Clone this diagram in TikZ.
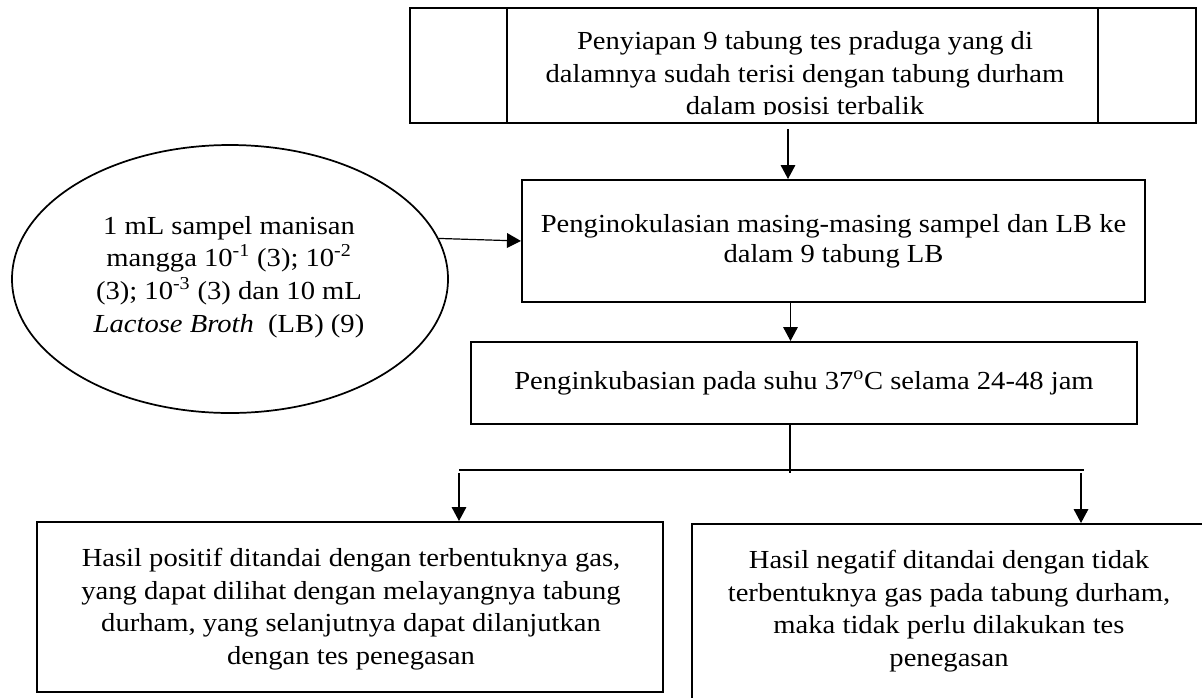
\documentclass[tikz,border=0pt]{standalone}
\usepackage{fontspec}
\setmainfont{Liberation Serif}[FakeStretch=1.1]
\usetikzlibrary{arrows.meta,shapes.geometric,calc}
\begin{document}
\begin{tikzpicture}[x=0.75pt,y=-0.75pt,
  font=\fontsize{19.5pt}{24.4pt}\selectfont,
  box/.style={draw, line width=1.5pt, rectangle, inner sep=0pt, align=center},
  txt/.style={align=center, inner sep=0pt},
  arr/.style={line width=0.9pt, -{Triangle[length=10.5pt,width=11pt]}},
  ln/.style={line width=0.9pt}]
\useasboundingbox (0,0) rectangle (1202,697);
\clip (0,0) rectangle (1202,697);

% top box
\node[box, minimum width=589.5pt, minimum height=86.25pt] (top) at (803,65.5) {};
\draw[line width=1.5pt] ($(top.north west)+(98,0)$) -- ($(top.south west)+(98,0)$);
\draw[line width=1.5pt] ($(top.north east)+(-99,0)$) -- ($(top.south east)+(-99,0)$);
\begin{scope}
  \clip (top.north west) rectangle ($(top.south east)+(0,-10)$);
  \node[txt] (ttop) at (805,76) {Penyiapan 9 tabung tes praduga yang di\\
    dalamnya sudah terisi dengan tabung durham\\
    dalam posisi terbalik};
\end{scope}

% box 2
\node[box, minimum width=467.25pt, minimum height=91.5pt,
  font=\fontsize{19.5pt}{22.5pt}\selectfont] (b2) at (833.5,241)
  {Penginokulasian masing-masing sampel dan LB ke\\ dalam 9 tabung LB};

% ellipse
\node[draw, ellipse, line width=1.3pt, inner sep=0pt,
  minimum width=327pt, minimum height=201pt] (ell) at (230,279) {};
\node[txt] (tell) at (229,277) {1 mL sampel manisan\\
  mangga 10\textsuperscript{-1} (3); 10\textsuperscript{-2}\\
  (3); 10\textsuperscript{-3} (3) dan 10 mL\\
  \textit{Lactose Broth}\ \ (LB) (9)};

% box 3
\node[box, minimum width=499.5pt, minimum height=61.5pt] (b3) at (804,383)
  {Penginkubasian pada suhu 37\textsuperscript{o}C selama 24-48 jam};

% box 4
\node[box, minimum width=469.5pt, minimum height=127.5pt] (b4) at (350,607) {};
\node[txt] (t4) at (351,609)
  {Hasil positif ditandai dengan terbentuknya gas,\\
   yang dapat dilihat dengan melayangnya tabung\\
   durham, yang selanjutnya dapat dilanjutkan\\
   dengan tes penegasan};

% box 5 (runs past the picture edge)
\node[box, minimum width=388.5pt, minimum height=135.75pt] (b5) at (951,614.5) {};
\node[txt] (t5) at (949,611) {Hasil negatif ditandai dengan tidak\\
   terbentuknya gas pada tabung durham,\\
   maka tidak perlu dilakukan tes\\
   penegasan};

% connectors
\coordinate (a1) at ($(top.south)+(-15,5)$);
\draw[arr] (a1) -- (a1 |- b2.north);
\draw[arr] (ell.11) -- (b2.west);
\coordinate (a2) at ($(b2.south)+(-43,0)$);
\draw[arr] (a2) -- (a2 |- b3.north);
\coordinate (a3) at ($(b3.south)+(-14,0)$);
\coordinate (j) at (790,473);
\draw[ln] (a3) -- (j);
\coordinate (hL) at (459,470);
\coordinate (hR) at (1084,470);
\draw[line width=1.1pt] (hL) -- (hR);
\coordinate (aL) at (459,473);
\coordinate (aR) at (1081,473);
\draw[arr] (aL) -- (aL |- b4.north);
\draw[arr] (aR) -- (aR |- b5.north);
\end{tikzpicture}
\end{document}
